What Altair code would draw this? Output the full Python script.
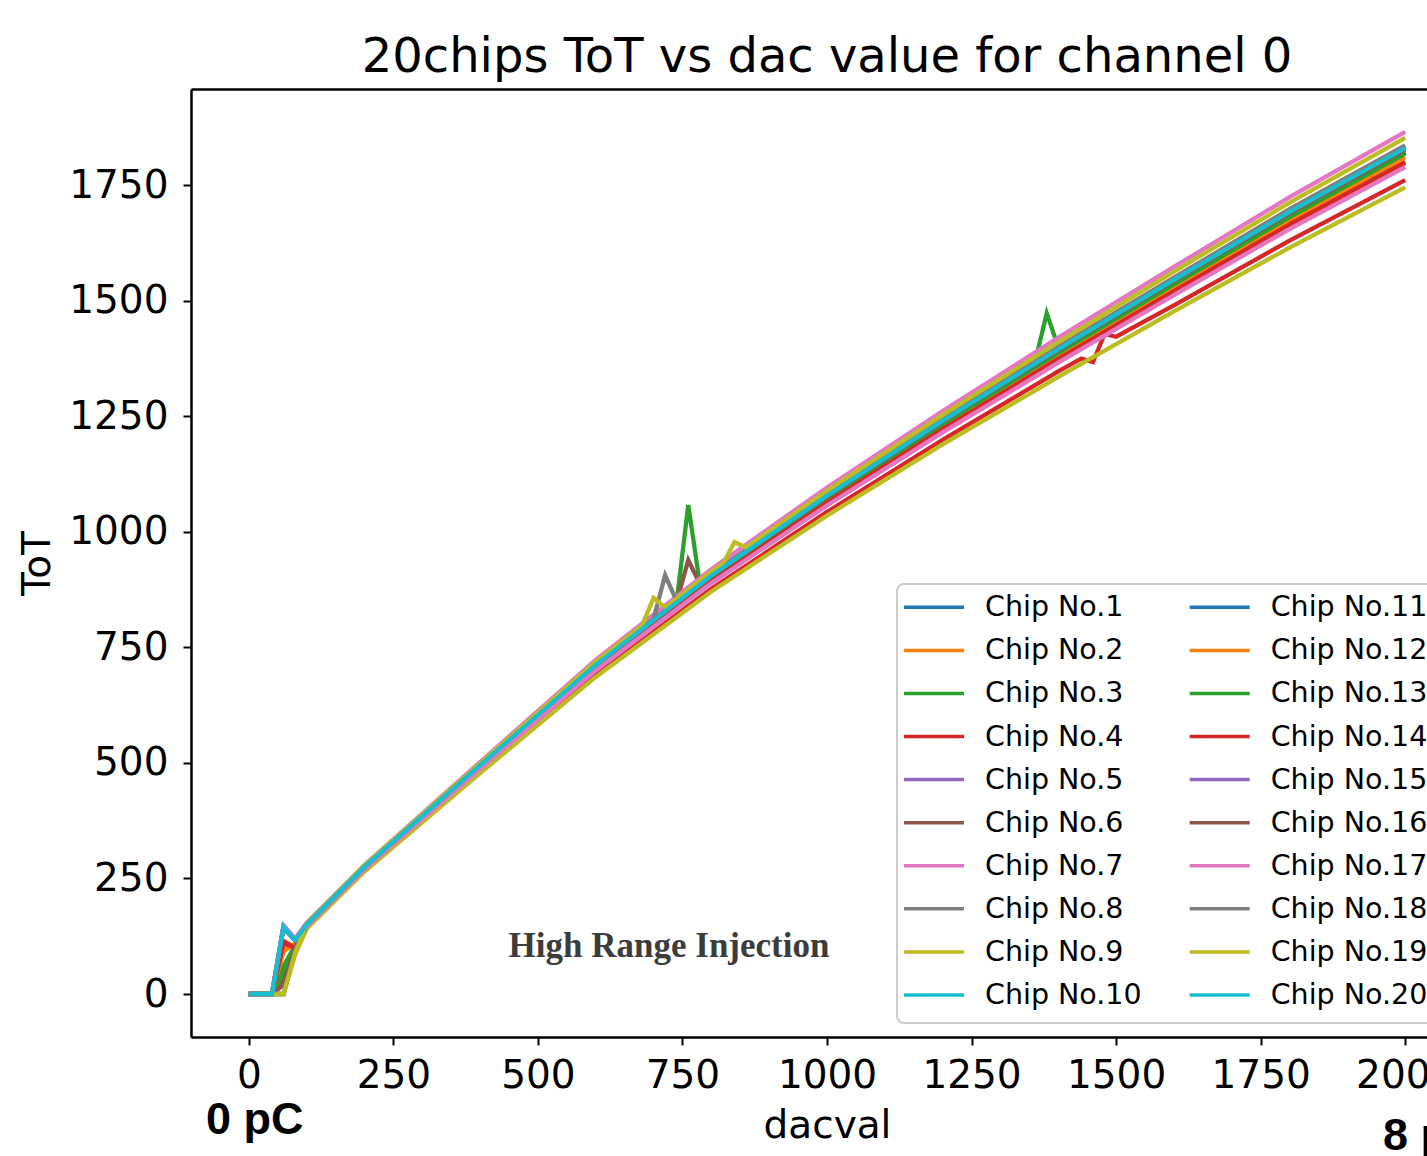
import altair as alt
import pandas as pd

# ---------------- data ----------------
chip_labels = [f"Chip No.{i}" for i in range(1, 21)]
tab10 = ["#1f77b4", "#ff7f0e", "#2ca02c", "#d62728", "#9467bd",
         "#8c564b", "#e377c2", "#7f7f7f", "#bcbd22", "#17becf"]

dac_knots = [0, 20, 40, 60, 80, 100, 200, 400, 600, 800, 1000, 1200, 1400, 1600, 1800, 2000]

tot_by_chip = [
    [0, 0, 0, 145, 118, 149, 274, 493, 709, 901, 1073, 1234, 1388, 1537, 1683, 1820],
    [0, 0, 0, 92, 110, 147, 271, 488, 702, 892, 1061, 1220, 1372, 1519, 1662, 1797],
    [0, 0, 0, 60, 105, 151, 276, 496, 714, 907, 1081, 1243, 1399, 1549, 1697, 1835],
    [0, 0, 0, 115, 100, 143, 267, 481, 691, 877, 1043, 1199, 1347, 1490, 1630, 1761],
    [0, 0, 0, 148, 118, 150, 275, 495, 712, 905, 1078, 1240, 1395, 1545, 1692, 1830],
    [0, 0, 0, 30, 100, 150, 275, 495, 713, 906, 1079, 1241, 1396, 1547, 1694, 1832],
    [0, 0, 0, 145, 120, 154, 279, 502, 723, 919, 1096, 1261, 1420, 1573, 1724, 1865],
    [0, 0, 0, 0, 95, 152, 277, 497, 715, 908, 1082, 1244, 1400, 1550, 1698, 1836],
    [0, 0, 0, 0, 85, 141, 265, 478, 686, 871, 1035, 1189, 1335, 1477, 1615, 1745],
    [0, 0, 0, 145, 117, 149, 274, 494, 710, 903, 1075, 1237, 1391, 1541, 1687, 1825],
    [0, 0, 0, 142, 116, 149, 274, 493, 710, 902, 1074, 1235, 1389, 1539, 1685, 1822],
    [0, 0, 0, 95, 108, 148, 273, 491, 706, 897, 1068, 1228, 1381, 1529, 1674, 1810],
    [0, 0, 0, 50, 102, 149, 274, 493, 708, 900, 1072, 1233, 1387, 1535, 1681, 1818],
    [0, 0, 0, 110, 100, 147, 271, 489, 703, 893, 1063, 1222, 1374, 1521, 1665, 1800],
    [0, 0, 0, 146, 118, 150, 275, 495, 713, 906, 1079, 1241, 1396, 1547, 1694, 1832],
    [0, 0, 0, 20, 98, 150, 275, 494, 711, 904, 1076, 1238, 1393, 1543, 1689, 1827],
    [0, 0, 0, 148, 120, 146, 270, 487, 700, 889, 1057, 1215, 1366, 1512, 1655, 1789],
    [0, 0, 0, 0, 92, 150, 275, 496, 713, 906, 1080, 1242, 1397, 1547, 1695, 1833],
    [0, 0, 0, 0, 88, 152, 278, 499, 719, 914, 1089, 1253, 1410, 1563, 1712, 1852],
    [0, 0, 0, 145, 117, 150, 275, 495, 712, 905, 1078, 1240, 1395, 1545, 1692, 1830],
]

# extra measured points (glitches) per chip number: (dacval, ToT)
extra_points = {
    3: [(740, 849), (760, 1058), (780, 888), (1360, 1368), (1380, 1473)],
    4: [(1440, 1375), (1460, 1367), (1480, 1428), (1500, 1422)],
    6: [(740, 848), (760, 939), (780, 887)],
    8: [(700, 811), (720, 906), (740, 850)],
    19: [(680, 797), (700, 857), (720, 836), (820, 931), (840, 978), (860, 966)],
}

x_ticks = [0, 250, 500, 750, 1000, 1250, 1500, 1750, 2000]
y_ticks = [0, 250, 500, 750, 1000, 1250, 1500, 1750]

title_text = "20chips ToT vs dac value for channel 0"
x_title = "dacval"
y_title = "ToT"
note_text = "High Range Injection"
left_charge = "0 pC"
right_charge = "8 pC"

# ---------------- tables ----------------
rows = []
for i, label in enumerate(chip_labels):
    pts = dict(zip(dac_knots, tot_by_chip[i]))
    for d, t in extra_points.get(i + 1, []):
        pts[d] = t
    for d in sorted(pts):
        rows.append({"chip": label, "dac": d, "tot": pts[d]})
df = pd.DataFrame(rows)

leg_df = pd.DataFrame({
    "chip": chip_labels,
    "col": [i // 10 for i in range(20)],
    "row": [i % 10 for i in range(20)],
})
one = pd.DataFrame({"k": [0]})

FONT = "DejaVu Sans"
xs = alt.Scale(domain=[-100, 2037.7], nice=False, zero=False)
ys = alt.Scale(domain=[-93, 1958], nice=False, zero=False)
color = alt.Color("chip:N", scale=alt.Scale(domain=chip_labels, range=tab10 * 2), legend=None)

common_axis = dict(labelFont=FONT, labelFontSize=39, labelColor="black", format="d",
                   tickColor="black", tickSize=8, tickWidth=2,
                   domainColor="black", domainWidth=2.5, grid=False,
                   labelFlush=False, labelOverlap=False,
                   titleFont=FONT, titleFontSize=39, titleFontWeight="normal",
                   titleColor="black", titleBaseline="alphabetic", titleAlign="center")

lines = alt.Chart(df).mark_line(strokeWidth=4.3).encode(
    x=alt.X("dac:Q", scale=xs,
            axis=alt.Axis(values=x_ticks, title=x_title, labelPadding=11,
                          titleX=636, titleY=100, **common_axis)),
    y=alt.Y("tot:Q", scale=ys,
            axis=alt.Axis(values=y_ticks, title=y_title, labelPadding=15,
                          titleX=-142, titleY=474, titleAngle=270, **common_axis)),
    color=color,
    order=alt.Order("dac:Q"),
)

frame_top = alt.Chart(df).mark_point(opacity=0).encode(
    x=alt.X("dac:Q", scale=xs,
            axis=alt.Axis(orient="top", labels=False, ticks=False, domain=True,
                          title=None, grid=False, domainColor="black", domainWidth=2.5)),
)

leg_box = alt.Chart(one).mark_rect(fill="white", stroke="#cccccc", strokeWidth=2,
                                   cornerRadius=7).encode(
    x=alt.value(706), x2=alt.value(1262), y=alt.value(495), y2=alt.value(934))

leg_x = alt.Scale(domain=[0, 1], range=[743, 1028.7])
leg_y = alt.Scale(domain=[0, 9], range=[518.3, 906])

leg_lines = alt.Chart(leg_df).mark_tick(orient="horizontal", size=60, thickness=3.5,
                                        opacity=1).encode(
    x=alt.X("col:Q", scale=leg_x, axis=None),
    y=alt.Y("row:Q", scale=leg_y, axis=None),
    color=color,
)
leg_text = alt.Chart(leg_df).mark_text(align="left", baseline="middle", dx=51,
                                       font=FONT, fontSize=28.5, color="black").encode(
    x=alt.X("col:Q", scale=leg_x, axis=None),
    y=alt.Y("row:Q", scale=leg_y, axis=None),
    text="chip:N",
)

note = alt.Chart(one).mark_text(text=note_text, font="Liberation Serif", fontSize=35,
                                fontWeight="bold", color="#3c3c3c", align="center",
                                baseline="alphabetic").encode(
    x=alt.value(478), y=alt.value(868))
pc0 = alt.Chart(one).mark_text(text=left_charge, font="Liberation Sans", fontSize=45,
                               fontWeight="bold", color="black", align="left",
                               baseline="alphabetic").encode(
    x=alt.value(15), y=alt.value(1045))
pc8 = alt.Chart(one).mark_text(text=right_charge, font="Liberation Sans", fontSize=45,
                               fontWeight="bold", color="black", align="left",
                               baseline="alphabetic").encode(
    x=alt.value(1192), y=alt.value(1061))

chart = alt.layer(
    lines, frame_top, leg_box, leg_lines, leg_text, note, pc0, pc8
).resolve_scale(
    x="independent", y="independent"
).properties(
    width=1236, height=948,
    autosize=alt.AutoSizeParams(type="none"),
    padding={"left": 191, "top": 89, "right": 0, "bottom": 119},
    title=alt.TitleParams(title_text, font=FONT, fontSize=48, fontWeight="normal",
                          color="black", anchor="middle", baseline="alphabetic",
                          offset=17, dy=48, dx=18, frame="group"),
    background="white",
).configure_view(stroke=None)

chart.save("out.html", embed_options={"renderer": "svg", "actions": False})
